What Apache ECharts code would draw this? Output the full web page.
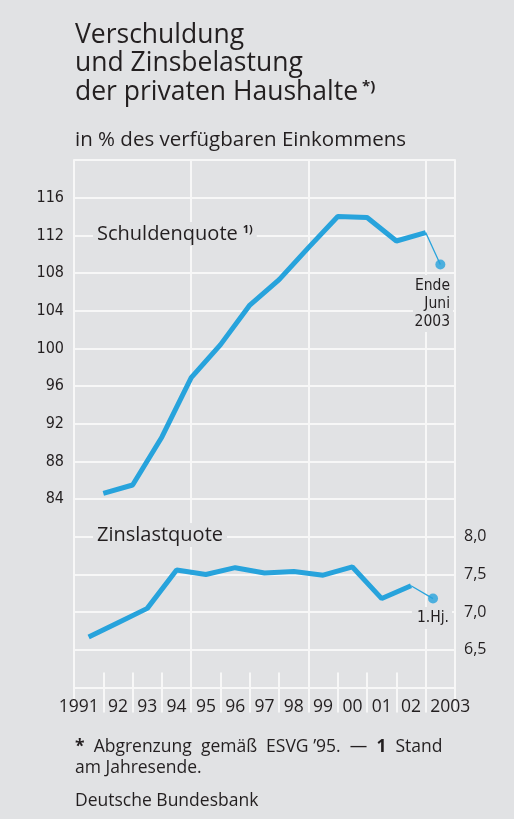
<!DOCTYPE html>
<html><head><meta charset="utf-8">
<script src="https://cdn.jsdelivr.net/npm/echarts@6/dist/echarts.min.js"></script>
<style>html,body{margin:0;padding:0;background:#e1e2e4;}#c{width:514px;height:819px;}</style>
</head><body><div id="c"></div>
<script>
const yearLabels = ['1991','92','93','94','95','96','97','98','99','00','01','02','2003'];
// Schuldenquote: year-end positions (x = year + 0.5)
const schuldenX = [1991.5,1992.5,1993.5,1994.5,1995.5,1996.5,1997.5,1998.5,1999.5,2000.5,2001.5,2002.5];
const schuldenQuote = [84.6,85.5,90.6,96.9,100.4,104.6,107.3,110.7,114.0,113.9,111.4,112.3];
const schuldenJuni2003 = [2003.0, 108.9];
// Zinslastquote: annual values (x = year)
const zinsX = [1991,1992,1993,1994,1995,1996,1997,1998,1999,2000,2001,2002];
const zinsQuote = [6.67,6.86,7.05,7.56,7.50,7.59,7.52,7.54,7.49,7.60,7.18,7.35];
const zinsHj2003 = [2002.75, 7.18];
const leftTicks = [84,88,92,96,100,104,108,112,116];
const rightTicks = [6.5,7.0,7.5,8.0];

const BG = '#e1e2e4', GRID = '#f7f7f7', BLUE = '#27a3dc', TXT = '#231f20';
const FONT = "'Open Sans', 'Noto Sans', sans-serif";
const COND = "'Liberation Sans Narrow', 'DejaVu Sans Condensed', 'Open Sans', sans-serif";

const chart = echarts.init(document.getElementById('c'), null, {renderer:'canvas'});
const pair = (xs, ys) => xs.map((x,i)=>[x, ys[i]]);

chart.setOption({
  backgroundColor: BG,
  animation: false,
  grid: {left: 74, right: 59, top: 160, bottom: 131.5, containLabel: false},
  xAxis: [
    {type:'category', data: yearLabels, boundaryGap: true, position:'bottom',
     axisLine:{show:false},
     axisTick:{show:true, interval:0, length:25, lineStyle:{color:GRID, width:2}},
     axisLabel:{interval:0, margin:11, fontSize:17.5, color:TXT, fontFamily:FONT,
       formatter:function(v, i){
         if (i === 0) return '{l|' + v + '}';
         if (i === yearLabels.length-1) return '{r|' + v + '}';
         return v;
       },
       rich:{l:{fontSize:17.5, fontFamily:FONT, color:TXT, padding:[0,20,0,0]},
             r:{fontSize:17.5, fontFamily:FONT, color:TXT, padding:[0,0,0,20]}}},
     splitLine:{show:true, interval:function(i){return i>0 && i%4===0;}, lineStyle:{color:GRID, width:2}}},
    {type:'category', data: yearLabels, boundaryGap: true, position:'bottom',
     axisLine:{show:false},
     axisTick:{show:true, inside:true, interval:0, length:15, lineStyle:{color:GRID, width:2}},
     axisLabel:{show:false}, splitLine:{show:false}},
    {type:'value', min:1990.5, max:2003.5, show:false}
  ],
  yAxis: [
    {type:'value', min:64, max:120, interval:4, position:'left',
     axisLine:{show:true, lineStyle:{color:GRID, width:2}}, axisTick:{show:false},
     axisLabel:{margin:10, fontSize:16, color:TXT, fontFamily:COND,
       formatter:function(v){return leftTicks.indexOf(v)>=0 ? String(v) : '';}},
     splitLine:{show:true, lineStyle:{color:GRID, width:2}}},
    {type:'value', min:6, max:13, interval:0.5, position:'right',
     axisLine:{show:true, lineStyle:{color:GRID, width:2}}, axisTick:{show:false},
     axisLabel:{margin:9, fontSize:16, color:TXT, fontFamily:FONT,
       formatter:function(v){return rightTicks.some(t=>Math.abs(t-v)<1e-9) ? v.toFixed(1).replace('.', ',') : '';}},
     splitLine:{show:false}}
  ],
  series: [
    {type:'line', xAxisIndex:2, yAxisIndex:0, data: pair(schuldenX, schuldenQuote),
     symbol:'none', lineStyle:{color:BLUE, width:5}, z:5},
    {type:'line', xAxisIndex:2, yAxisIndex:0, data: [[schuldenX[schuldenX.length-1], schuldenQuote[schuldenQuote.length-1]], schuldenJuni2003],
     symbol:'none', lineStyle:{color:BLUE, width:1.3}, z:5},
    {type:'scatter', xAxisIndex:2, yAxisIndex:0, data:[schuldenJuni2003], symbolSize:10, itemStyle:{color:BLUE}, z:6},
    {type:'line', xAxisIndex:2, yAxisIndex:1, data: pair(zinsX, zinsQuote),
     symbol:'none', lineStyle:{color:BLUE, width:5}, z:5},
    {type:'line', xAxisIndex:2, yAxisIndex:1, data: [[zinsX[zinsX.length-1], zinsQuote[zinsQuote.length-1]], zinsHj2003],
     symbol:'none', lineStyle:{color:BLUE, width:1.3}, z:5},
    {type:'scatter', xAxisIndex:2, yAxisIndex:1, data:[zinsHj2003], symbolSize:10, itemStyle:{color:BLUE}, z:6}
  ],
  graphic: [
    {type:'text', left:75, top:21, z:100, style:{text:'Verschuldung\nund Zinsbelastung\nder privaten Haushalte{sup|*)}',
      font:"26.5px "+FONT, fill:TXT, lineHeight:28.5,
      rich:{sup:{font:"bold 15px "+FONT, fill:TXT, lineHeight:28.5, padding:[0,0,12,4]}}}},
    {type:'text', left:75, top:130, z:100, style:{text:'in % des verfügbaren Einkommens', font:"20.5px "+FONT, fill:TXT}},
    {type:'text', left:93, top:222, z:100, style:{text:'Schuldenquote{sup|1)}', font:"20px "+FONT, fill:TXT,
      backgroundColor:BG, padding:[2,4,2,4],
      rich:{sup:{font:"bold 11px "+FONT, fill:TXT, padding:[0,0,9,5]}}}},
    {type:'text', left:93, top:523, z:100, style:{text:'Zinslastquote', font:"20px "+FONT, fill:TXT,
      backgroundColor:BG, padding:[2,4,2,4]}},
    {type:'rect', shape:{x:413, y:275, width:40, height:57}, z:99, style:{fill:BG}},
    {type:'text', right:64, top:278, z:100, style:{text:'Ende', font:"15.5px "+COND, fill:TXT}},
    {type:'text', right:64, top:296, z:100, style:{text:'Juni', font:"15.5px "+COND, fill:TXT}},
    {type:'text', right:64, top:314, z:100, style:{text:'2003', font:"15.5px "+COND, fill:TXT}},
    {type:'text', right:62, top:607, z:100, style:{text:'1.Hj.', font:"15.5px "+COND, fill:TXT,
      backgroundColor:BG, padding:[3,3,3,5]}},
    {type:'text', left:75, top:737, z:100, style:{text:'{b|*}  Abgrenzung  gemäß  ESVG ’95.  —  {b|1}  Stand\nam Jahresende.',
      font:"17.5px "+FONT, fill:TXT, lineHeight:20.5,
      rich:{b:{font:"bold 17.5px "+FONT, fill:TXT}}}},
    {type:'text', left:75, top:792, z:100, style:{text:'Deutsche Bundesbank', font:"17.5px "+FONT, fill:TXT}}
  ]
});
</script></body></html>
